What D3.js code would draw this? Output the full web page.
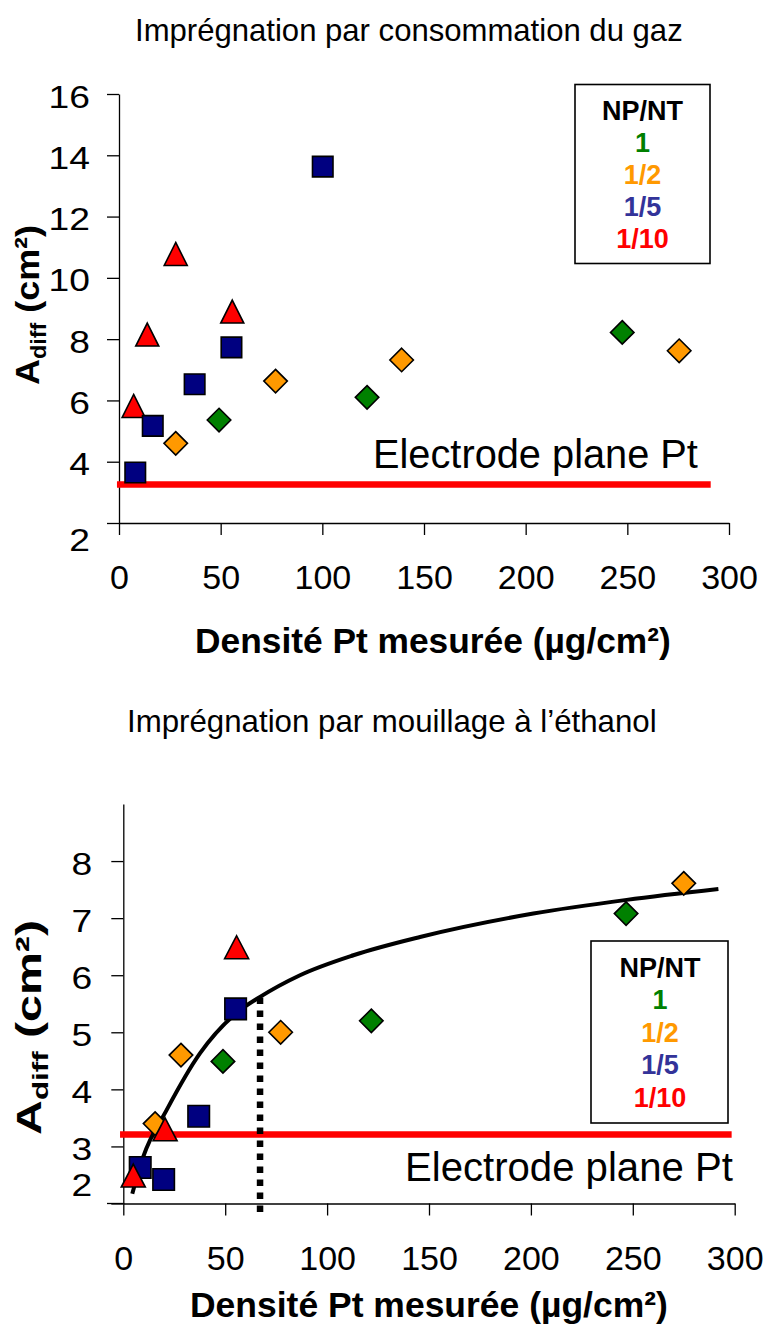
<!DOCTYPE html>
<html><head><meta charset="utf-8">
<script src="https://cdn.jsdelivr.net/npm/d3@7"></script>
<style>
body{margin:0;background:#fff}
svg{display:block}
text{font-family:"Liberation Sans",Arial,Helvetica,sans-serif}
</style>
</head><body>
<svg id="c" width="763" height="1325"></svg>
<script>
// ---------------- DATA ----------------
const legendTitle = "NP/NT";
const seriesNames = ["1", "1/2", "1/5", "1/10"];
const xTickValues = [0, 50, 100, 150, 200, 250, 300];
const yTicksTop = [2, 4, 6, 8, 10, 12, 14, 16];
const yTicksBottom = [2, 3, 4, 5, 6, 7, 8];

// Top chart : Imprégnation par consommation du gaz
const gaz_1_x    = [49.2, 122, 247.5];
const gaz_1_y    = [5.36, 6.10, 8.22];
const gaz_1_2_x  = [27.9, 77, 139, 275.5];
const gaz_1_2_y  = [4.60, 6.63, 7.32, 7.62];
const gaz_1_5_x  = [8, 16.6, 37.2, 55.3, 100.2];
const gaz_1_5_y  = [3.65, 5.17, 6.53, 7.73, 13.63];
const gaz_1_10_x = [7.2, 13.9, 27.9, 55.7];
const gaz_1_10_y = [5.82, 8.15, 10.78, 8.90];
const gaz_plane_x = [-1, 291];
const gaz_plane_y = [3.26, 3.26];

// Bottom chart : Imprégnation par mouillage à l'éthanol
const eth_1_x    = [48.9, 121.7, 246.7];
const eth_1_y    = [4.49, 5.20, 7.08];
const eth_1_2_x  = [15.6, 28.3, 77.2, 275];
const eth_1_2_y  = [3.40, 4.60, 5.00, 7.61];
const eth_1_5_x  = [8.3, 19.8, 37, 55.1];
const eth_1_5_y  = [2.63, 2.42, 3.53, 5.41];
const eth_1_10_x = [4.9, 20.5, 55.6];
const eth_1_10_y = [2.49, 3.30, 6.49];
const eth_plane_x = [-1.6, 298.5];
const eth_plane_y = [3.21, 3.21];
const eth_fit_x = [4.4, 9.8, 21.3, 37.6, 55.6, 67.1, 86.7, 112.9, 145.6, 201.2, 247, 292];
const eth_fit_y = [2.17, 2.82, 3.64, 4.63, 5.34, 5.62, 6.00, 6.35, 6.67, 7.08, 7.32, 7.51];
const eth_drop_x = [67.1, 67.1];
const eth_drop_y = [1.85, 5.68];

// ---------------- STYLES ----------------
const colors = {"1":"#008000","1/2":"#FF9900","1/5":"#000080","1/10":"#FF0000"};
const legendColors = {"1":"#008000","1/2":"#FF9900","1/5":"#333399","1/10":"#FF0000"};
const shapes = {"1":"diamond","1/2":"diamond","1/5":"square","1/10":"triangle"};

const svg = d3.select("#c");
const zip = (xs, ys) => xs.map((x, i) => ({x, y: ys[i]}));

function shapePath(kind, s) {
  if (kind === "square") { const h = s.sq/2; return `M${-h},${-h}H${h}V${h}H${-h}Z`; }
  if (kind === "diamond") { const h = s.di/2; return `M0,${-h}L${h},0L0,${h}L${-h},0Z`; }
  const w = s.trW/2, h = s.trH/2; return `M0,${-h}L${w},${h}L${-w},${h}Z`;
}

function label(g, o) {
  const t = g.append("text")
    .attr("text-anchor", o.anchor || "start")
    .style("font-size", o.size + "px")
    .style("font-weight", o.weight || "normal")
    .attr("fill", o.fill || "#000");
  o.parts.forEach(p => {
    const ts = t.append("tspan").text(p.text);
    if (p.size) ts.style("font-size", p.size + "px");
    if (p.dy) ts.attr("dy", p.dy);
  });
  let s = 1;
  if (o.target) { const w = t.node().getBBox().width; if (w > 0) s = o.target / w; }
  t.attr("transform", `translate(${o.x},${o.y}) rotate(${o.rot || 0}) scale(${s},1)`);
  return t;
}

function drawChart(cfg) {
  const g = svg.append("g");
  const x = d3.scaleLinear().domain([0, 300]).range(cfg.xRange);
  const y = d3.scaleLinear().domain(cfg.yDomain).range(cfg.yRange);

  // axes
  const xa = g.append("g").attr("transform", `translate(0,${cfg.yRange[0]})`)
    .call(d3.axisBottom(x).tickValues(xTickValues).tickFormat(d3.format("d"))
      .tickSize(12).tickSizeOuter(0).tickPadding(30));
  const ya = g.append("g").attr("transform", `translate(${cfg.xRange[0]},0)`)
    .call(d3.axisLeft(y).tickValues(cfg.yTicks).tickFormat(d3.format("d"))
      .tickSize(12).tickSizeOuter(0).tickPadding(cfg.yPad));
  [xa, ya].forEach(a => {
    a.attr("font-family", null).attr("font-size", null);
    a.selectAll("path,line").attr("stroke", "#000").attr("stroke-width", 1.3);
    a.selectAll("text").attr("fill", "#000");
  });
  xa.selectAll("text").attr("dy", "0.71em").style("font-size", "34px");
  ya.selectAll("text").attr("dy", "0.42em").style("font-size", "31px");
  ya.selectAll(".tick").filter(d => d === cfg.yDomain[0]).select("text").attr("dy", cfg.y2dy);
  ya.selectAll("text").each(function() {
    const t = d3.select(this); const xx = +t.attr("x");
    t.attr("x", 0).attr("transform", `translate(${xx},0) scale(1.2,1)`);
  });
  if (cfg.xExtend) {
    g.append("line").attr("x1", cfg.xExtend).attr("x2", cfg.xRange[0])
      .attr("y1", cfg.yRange[0]).attr("y2", cfg.yRange[0]).attr("stroke", "#000").attr("stroke-width", 1.3);
  }

  // electrode plane line
  const line = d3.line().x(d => x(d.x)).y(d => y(d.y));
  g.append("path").datum(zip(cfg.plane[0], cfg.plane[1])).attr("d", line)
    .attr("stroke", "#FF0000").attr("stroke-width", 6.5).attr("fill", "none");

  if (cfg.fit) {
    g.append("path").datum(zip(cfg.fit[0], cfg.fit[1]))
      .attr("d", d3.line().x(d => x(d.x)).y(d => y(d.y)).curve(d3.curveMonotoneX))
      .attr("stroke", "#000").attr("stroke-width", 4).attr("fill", "none");
    g.append("path").datum(zip(cfg.drop[0], cfg.drop[1])).attr("d", line)
      .attr("stroke", "#000").attr("stroke-width", 6.5).attr("stroke-dasharray", "6.5,6.5").attr("fill", "none");
  }

  // markers
  cfg.series.forEach(sr => {
    g.append("g").selectAll("path").data(zip(sr.x, sr.y)).join("path")
      .attr("d", shapePath(shapes[sr.name], cfg.msize))
      .attr("transform", d => `translate(${x(d.x)},${y(d.y)})`)
      .attr("fill", colors[sr.name]).attr("stroke", "#000").attr("stroke-width", 1.6);
  });

  // electrode text
  label(g, {x: cfg.elec.x, y: cfg.elec.y, size: 40, parts: [{text: "Electrode plane Pt"}], target: cfg.elec.w});

  // legend
  const L = cfg.legend;
  g.append("rect").attr("x", L.x).attr("y", L.y).attr("width", L.w).attr("height", L.h)
    .attr("fill", "#fff").attr("stroke", "#000").attr("stroke-width", 1.6);
  const lines = [legendTitle].concat(seriesNames);
  lines.forEach((t, i) => {
    label(g, {x: L.cx, y: L.base + i * L.step, anchor: "middle", size: 27, weight: "bold",
      fill: i === 0 ? "#000" : legendColors[t], parts: [{text: t}]});
  });

  // titles
  label(g, {x: cfg.title.x, y: cfg.title.y, size: 31, parts: [{text: cfg.title.text}], target: cfg.title.w});
  label(g, {x: cfg.xt.x, y: cfg.xt.y, size: 35, weight: "bold",
    parts: [{text: "Densité Pt mesurée (µg/cm²)"}], target: cfg.xt.w});
  label(g, {x: cfg.yt.x, y: cfg.yt.y, rot: -90, anchor: "middle", size: cfg.yt.size, weight: "bold",
    parts: [{text: "A"}, {text: "diff", size: cfg.yt.size * 0.65, dy: 7}, {text: " (cm²)", dy: -7}], target: cfg.yt.w});
}

drawChart({
  xRange: [119, 729], yDomain: [2, 16], yRange: [523, 94], yTicks: yTicksTop, yPad: 17, y2dy: "0.9em",
  plane: [gaz_plane_x, gaz_plane_y],
  series: [
    {name: "1", x: gaz_1_x, y: gaz_1_y},
    {name: "1/2", x: gaz_1_2_x, y: gaz_1_2_y},
    {name: "1/10", x: gaz_1_10_x, y: gaz_1_10_y},
    {name: "1/5", x: gaz_1_5_x, y: gaz_1_5_y}
  ],
  msize: {sq: 20.5, di: 23.5, trW: 23, trH: 23},
  elec: {x: 373, y: 468, w: 325},
  legend: {x: 575, y: 84.5, w: 135, h: 179, cx: 642.5, base: 120, step: 32},
  title: {x: 135, y: 41, w: 548, text: "Imprégnation par consommation du gaz"},
  xt: {x: 195, y: 653, w: 476},
  yt: {x: 39, y: 305, w: 160, size: 34}
});

drawChart({
  xRange: [123.3, 734.7], yDomain: [2, 9], yRange: [1203.5, 804], yTicks: yTicksBottom, yPad: 19, y2dy: "-0.25em",
  xExtend: 107,
  plane: [eth_plane_x, eth_plane_y],
  fit: [eth_fit_x, eth_fit_y], drop: [eth_drop_x, eth_drop_y],
  series: [
    {name: "1", x: eth_1_x, y: eth_1_y},
    {name: "1/2", x: eth_1_2_x, y: eth_1_2_y},
    {name: "1/5", x: eth_1_5_x, y: eth_1_5_y},
    {name: "1/10", x: eth_1_10_x, y: eth_1_10_y}
  ],
  msize: {sq: 21.5, di: 23.5, trW: 24, trH: 23},
  elec: {x: 405, y: 1180.5, w: 328},
  legend: {x: 591, y: 941, w: 137, h: 182, cx: 660, base: 976.5, step: 32.5},
  title: {x: 127, y: 731.5, w: 530, text: "Imprégnation par mouillage à l’éthanol"},
  xt: {x: 190, y: 1316.5, w: 478},
  yt: {x: 41, y: 1027.5, w: 215, size: 35}
});
</script>
</body></html>
